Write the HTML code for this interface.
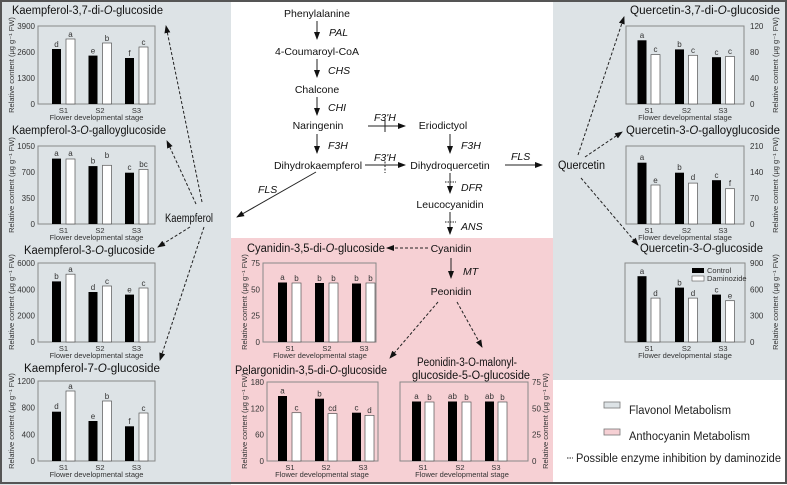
<!DOCTYPE html>
<html><head><meta charset="utf-8"><style>
html,body{margin:0;padding:0;background:#fff}
svg{display:block;font-family:"Liberation Sans",Arial,sans-serif}
.t{font-size:11.5px;fill:#111}
.p{font-size:10.5px;fill:#111}
.e{font-size:10.5px;fill:#111;font-style:italic}
.k{font-size:8px;fill:#333}
.l{font-size:8px;fill:#333}
.ax{font-size:7.5px;fill:#333}
.box{fill:none;stroke:#888;stroke-width:1}
.b{fill:#000}
.w{fill:#fff;stroke:#555;stroke-width:.7}
.d{stroke:#222;stroke-width:1;stroke-dasharray:3,2;fill:none}
.s{stroke:#222;stroke-width:1;fill:none}
</style></head><body>
<svg width="787" height="485" viewBox="0 0 787 485">
<defs>
<marker id="a" markerWidth="8" markerHeight="6" refX="7" refY="3" orient="auto" markerUnits="userSpaceOnUse"><path d="M0,0 L8,3 L0,6 z" fill="#111"/></marker>
</defs>
<rect x="0" y="0" width="787" height="485" fill="#fff"/>
<rect x="0" y="0" width="231" height="485" fill="#dde3e6"/>
<rect x="553" y="0" width="234" height="380" fill="#dde3e6"/>
<rect x="231" y="238" width="322" height="244" fill="#f6d0d4"/>
<rect x="1" y="1" width="785" height="482" fill="none" stroke="#555" stroke-width="2"/>

<!-- LEFT CHARTS -->
<g>
<text class="t" x="12" y="14" textLength="151" lengthAdjust="spacingAndGlyphs">Kaempferol-3,7-di-<tspan font-style="italic">O</tspan>-glucoside</text>
<rect class="box" x="38" y="26" width="117" height="78"/>
<text class="k" x="35" y="107" text-anchor="end">0</text><text class="k" x="35" y="81" text-anchor="end">1300</text><text class="k" x="35" y="55" text-anchor="end">2600</text><text class="k" x="35" y="29" text-anchor="end">3900</text>
<rect class="b" x="52" y="49" width="9" height="55"/><rect class="w" x="66" y="39" width="9" height="65"/>
<rect class="b" x="88.5" y="55.6" width="9" height="48.4"/><rect class="w" x="102.5" y="43" width="9" height="61"/>
<rect class="b" x="125" y="58" width="9" height="46"/><rect class="w" x="139" y="47" width="9" height="57"/>
<text class="l" x="56.5" y="47" text-anchor="middle">d</text><text class="l" x="70.5" y="37" text-anchor="middle">a</text>
<text class="l" x="93" y="53.5" text-anchor="middle">e</text><text class="l" x="107" y="41" text-anchor="middle">b</text>
<text class="l" x="129.5" y="56" text-anchor="middle">f</text><text class="l" x="143.5" y="45" text-anchor="middle">c</text>
<text class="ax" x="63.5" y="113" text-anchor="middle">S1</text><text class="ax" x="100" y="113" text-anchor="middle">S2</text><text class="ax" x="136.5" y="113" text-anchor="middle">S3</text>
<text class="ax" x="96.5" y="120" text-anchor="middle">Flower developmental stage</text>
<text class="ax" transform="translate(14,65) rotate(-90)" text-anchor="middle">Relative content (μg g⁻¹ FW)</text>
</g>
<g>
<text class="t" x="12" y="134" textLength="154" lengthAdjust="spacingAndGlyphs">Kaempferol-3-<tspan font-style="italic">O</tspan>-galloyglucoside</text>
<rect class="box" x="38" y="146" width="117" height="78"/>
<text class="k" x="35" y="227" text-anchor="end">0</text><text class="k" x="35" y="201" text-anchor="end">350</text><text class="k" x="35" y="175" text-anchor="end">700</text><text class="k" x="35" y="149" text-anchor="end">1050</text>
<rect class="b" x="52" y="158.6" width="9" height="65.4"/><rect class="w" x="66" y="159" width="9" height="65"/>
<rect class="b" x="88.5" y="166.1" width="9" height="57.9"/><rect class="w" x="102.5" y="165.3" width="9" height="58.7"/>
<rect class="b" x="125" y="172.7" width="9" height="51.3"/><rect class="w" x="139" y="169.4" width="9" height="54.6"/>
<text class="l" x="56.5" y="156" text-anchor="middle">a</text><text class="l" x="70.5" y="156" text-anchor="middle">a</text>
<text class="l" x="93" y="163.5" text-anchor="middle">b</text><text class="l" x="107" y="158" text-anchor="middle">b</text>
<text class="l" x="129.5" y="170" text-anchor="middle">c</text><text class="l" x="143.5" y="167" text-anchor="middle">bc</text>
<text class="ax" x="63.5" y="233" text-anchor="middle">S1</text><text class="ax" x="100" y="233" text-anchor="middle">S2</text><text class="ax" x="136.5" y="233" text-anchor="middle">S3</text>
<text class="ax" x="96.5" y="240" text-anchor="middle">Flower developmental stage</text>
<text class="ax" transform="translate(14,185) rotate(-90)" text-anchor="middle">Relative content (μg g⁻¹ FW)</text>
</g>
<g>
<text class="t" x="24" y="254" textLength="131" lengthAdjust="spacingAndGlyphs">Kaempferol-3-<tspan font-style="italic">O</tspan>-glucoside</text>
<rect class="box" x="38" y="263" width="117" height="79"/>
<text class="k" x="35" y="345" text-anchor="end">0</text><text class="k" x="35" y="318.7" text-anchor="end">2000</text><text class="k" x="35" y="292.3" text-anchor="end">4000</text><text class="k" x="35" y="266" text-anchor="end">6000</text>
<rect class="b" x="52" y="281.4" width="9" height="60.6"/><rect class="w" x="66" y="274.2" width="9" height="67.8"/>
<rect class="b" x="88.5" y="292" width="9" height="50"/><rect class="w" x="102.5" y="286" width="9" height="56"/>
<rect class="b" x="125" y="294.6" width="9" height="47.4"/><rect class="w" x="139" y="288" width="9" height="54"/>
<text class="l" x="56.5" y="279" text-anchor="middle">b</text><text class="l" x="70.5" y="272" text-anchor="middle">a</text>
<text class="l" x="93" y="290" text-anchor="middle">d</text><text class="l" x="107" y="284" text-anchor="middle">c</text>
<text class="l" x="129.5" y="292.5" text-anchor="middle">e</text><text class="l" x="143.5" y="286" text-anchor="middle">c</text>
<text class="ax" x="63.5" y="351" text-anchor="middle">S1</text><text class="ax" x="100" y="351" text-anchor="middle">S2</text><text class="ax" x="136.5" y="351" text-anchor="middle">S3</text>
<text class="ax" x="96.5" y="358" text-anchor="middle">Flower developmental stage</text>
<text class="ax" transform="translate(14,302) rotate(-90)" text-anchor="middle">Relative content (μg g⁻¹ FW)</text>
</g>
<g>
<text class="t" x="24" y="372" textLength="136" lengthAdjust="spacingAndGlyphs">Kaempferol-7-<tspan font-style="italic">O</tspan>-glucoside</text>
<rect class="box" x="38" y="381" width="117" height="80"/>
<text class="k" x="35" y="464" text-anchor="end">0</text><text class="k" x="35" y="437.3" text-anchor="end">400</text><text class="k" x="35" y="410.7" text-anchor="end">800</text><text class="k" x="35" y="384" text-anchor="end">1200</text>
<rect class="b" x="52" y="411.7" width="9" height="49.3"/><rect class="w" x="66" y="391" width="9" height="70"/>
<rect class="b" x="88.5" y="421" width="9" height="40"/><rect class="w" x="102.5" y="401" width="9" height="60"/>
<rect class="b" x="125" y="426.3" width="9" height="34.7"/><rect class="w" x="139" y="413" width="9" height="48"/>
<text class="l" x="56.5" y="409" text-anchor="middle">d</text><text class="l" x="70.5" y="389" text-anchor="middle">a</text>
<text class="l" x="93" y="419" text-anchor="middle">e</text><text class="l" x="107" y="399" text-anchor="middle">b</text>
<text class="l" x="129.5" y="424" text-anchor="middle">f</text><text class="l" x="143.5" y="411" text-anchor="middle">c</text>
<text class="ax" x="63.5" y="470" text-anchor="middle">S1</text><text class="ax" x="100" y="470" text-anchor="middle">S2</text><text class="ax" x="136.5" y="470" text-anchor="middle">S3</text>
<text class="ax" x="96.5" y="477" text-anchor="middle">Flower developmental stage</text>
<text class="ax" transform="translate(14,421) rotate(-90)" text-anchor="middle">Relative content (μg g⁻¹ FW)</text>
</g>
<text class="p" x="165" y="222" style="font-size:11.5px" textLength="48" lengthAdjust="spacingAndGlyphs">Kaempferol</text>
<line class="d" x1="202" y1="202" x2="166" y2="26" marker-end="url(#a)"/>
<line class="d" x1="196" y1="204" x2="167" y2="141" marker-end="url(#a)"/>
<line class="d" x1="190" y1="227" x2="158" y2="247" marker-end="url(#a)"/>
<line class="d" x1="204" y1="227" x2="160" y2="360" marker-end="url(#a)"/>

<!-- RIGHT CHARTS -->
<g>
<text class="t" x="630" y="14" textLength="150" lengthAdjust="spacingAndGlyphs">Quercetin-3,7-di-<tspan font-style="italic">O</tspan>-glucoside</text>
<rect class="box" x="626" y="26" width="118" height="78"/>
<text class="k" x="750" y="107">0</text><text class="k" x="750" y="81">40</text><text class="k" x="750" y="55">80</text><text class="k" x="750" y="29">120</text>
<rect class="b" x="637.5" y="40.3" width="9" height="63.7"/><rect class="w" x="651" y="54.6" width="9" height="49.4"/>
<rect class="b" x="675" y="49.4" width="9" height="54.6"/><rect class="w" x="688.5" y="55.3" width="9" height="48.7"/>
<rect class="b" x="712" y="57.2" width="9" height="46.8"/><rect class="w" x="725.5" y="56.5" width="9" height="47.5"/>
<text class="l" x="642" y="38" text-anchor="middle">a</text><text class="l" x="655.5" y="52" text-anchor="middle">c</text>
<text class="l" x="679.5" y="47" text-anchor="middle">b</text><text class="l" x="693" y="53" text-anchor="middle">c</text>
<text class="l" x="716.5" y="55" text-anchor="middle">c</text><text class="l" x="730" y="54" text-anchor="middle">c</text>
<text class="ax" x="649" y="113" text-anchor="middle">S1</text><text class="ax" x="686.5" y="113" text-anchor="middle">S2</text><text class="ax" x="723" y="113" text-anchor="middle">S3</text>
<text class="ax" x="685" y="120" text-anchor="middle">Flower developmental stage</text>
<text class="ax" transform="translate(778,65) rotate(-90)" text-anchor="middle">Relative content (μg g⁻¹ FW)</text>
</g>
<g>
<text class="t" x="626" y="134" textLength="154" lengthAdjust="spacingAndGlyphs">Quercetin-3-<tspan font-style="italic">O</tspan>-galloyglucoside</text>
<rect class="box" x="626" y="146" width="118" height="78"/>
<text class="k" x="750" y="227">0</text><text class="k" x="750" y="201">70</text><text class="k" x="750" y="175">140</text><text class="k" x="750" y="149">210</text>
<rect class="b" x="637.5" y="162.7" width="9" height="61.3"/><rect class="w" x="651" y="185" width="9" height="39"/>
<rect class="b" x="675" y="172.7" width="9" height="51.3"/><rect class="w" x="688.5" y="183.1" width="9" height="40.9"/>
<rect class="b" x="712" y="180.2" width="9" height="43.8"/><rect class="w" x="725.5" y="188.7" width="9" height="35.3"/>
<text class="l" x="642" y="160" text-anchor="middle">a</text><text class="l" x="655.5" y="183" text-anchor="middle">e</text>
<text class="l" x="679.5" y="170" text-anchor="middle">b</text><text class="l" x="693" y="180" text-anchor="middle">d</text>
<text class="l" x="716.5" y="178" text-anchor="middle">c</text><text class="l" x="730" y="186" text-anchor="middle">f</text>
<text class="ax" x="649" y="233" text-anchor="middle">S1</text><text class="ax" x="686.5" y="233" text-anchor="middle">S2</text><text class="ax" x="723" y="233" text-anchor="middle">S3</text>
<text class="ax" x="685" y="240" text-anchor="middle">Flower developmental stage</text>
<text class="ax" transform="translate(778,185) rotate(-90)" text-anchor="middle">Relative content (μg g⁻¹ FW)</text>
</g>
<g>
<text class="t" x="640" y="252" textLength="123" lengthAdjust="spacingAndGlyphs">Quercetin-3-<tspan font-style="italic">O</tspan>-glucoside</text>
<rect class="box" x="625" y="263" width="120" height="79"/>
<text class="k" x="750" y="345">0</text><text class="k" x="750" y="318.7">300</text><text class="k" x="750" y="292.3">600</text><text class="k" x="750" y="266">900</text>
<rect class="b" x="637.5" y="276.2" width="9" height="65.8"/><rect class="w" x="651" y="298.1" width="9" height="43.9"/>
<rect class="b" x="675" y="287.6" width="9" height="54.4"/><rect class="w" x="688.5" y="298.1" width="9" height="43.9"/>
<rect class="b" x="712" y="294.6" width="9" height="47.4"/><rect class="w" x="725.5" y="300.7" width="9" height="41.3"/>
<text class="l" x="642" y="274" text-anchor="middle">a</text><text class="l" x="655.5" y="296" text-anchor="middle">d</text>
<text class="l" x="679.5" y="285.5" text-anchor="middle">b</text><text class="l" x="693" y="296" text-anchor="middle">d</text>
<text class="l" x="716.5" y="292.5" text-anchor="middle">c</text><text class="l" x="730" y="298.5" text-anchor="middle">e</text>
<rect x="692" y="268" width="12" height="5" fill="#000"/><text class="ax" x="707" y="273">Control</text>
<rect x="692" y="276" width="12" height="5" fill="#fff" stroke="#555" stroke-width=".6"/><text class="ax" x="707" y="281">Daminozide</text>
<text class="ax" x="649" y="351" text-anchor="middle">S1</text><text class="ax" x="686.5" y="351" text-anchor="middle">S2</text><text class="ax" x="723" y="351" text-anchor="middle">S3</text>
<text class="ax" x="685" y="358" text-anchor="middle">Flower developmental stage</text>
<text class="ax" transform="translate(778,302) rotate(-90)" text-anchor="middle">Relative content (μg g⁻¹ FW)</text>
</g>
<text class="p" x="558" y="169" style="font-size:11.5px" textLength="47" lengthAdjust="spacingAndGlyphs">Quercetin</text>
<line class="d" x1="578" y1="155" x2="624" y2="17" marker-end="url(#a)"/>
<line class="d" x1="585" y1="157" x2="622" y2="132" marker-end="url(#a)"/>
<line class="d" x1="581" y1="178" x2="638" y2="245" marker-end="url(#a)"/>

<!-- PATHWAY -->
<g text-anchor="middle">
<text class="p" x="317" y="17">Phenylalanine</text>
<text class="p" x="317" y="55">4-Coumaroyl-CoA</text>
<text class="p" x="317" y="93">Chalcone</text>
<text class="p" x="318" y="129">Naringenin</text>
<text class="p" x="318" y="169">Dihydrokaempferol</text>
<text class="p" x="443" y="129">Eriodictyol</text>
<text class="p" x="450" y="169">Dihydroquercetin</text>
<text class="p" x="450" y="208">Leucocyanidin</text>
<text class="p" x="451" y="252">Cyanidin</text>
<text class="p" x="451" y="295">Peonidin</text>
</g>
<g>
<text class="e" x="329" y="36">PAL</text>
<text class="e" x="328" y="74">CHS</text>
<text class="e" x="328" y="111">CHI</text>
<text class="e" x="328" y="149">F3H</text>
<text class="e" x="461" y="149">F3H</text>
<text class="e" x="374" y="121">F3'H</text>
<text class="e" x="374" y="161">F3'H</text>
<text class="e" x="511" y="160">FLS</text>
<text class="e" x="258" y="193">FLS</text>
<text class="e" x="461" y="191">DFR</text>
<text class="e" x="461" y="230">ANS</text>
<text class="e" x="463" y="275">MT</text>
</g>
<line class="s" x1="317" y1="21" x2="317" y2="39" marker-end="url(#a)"/>
<line class="s" x1="317" y1="59" x2="317" y2="77" marker-end="url(#a)"/>
<line class="s" x1="317" y1="97" x2="317" y2="115" marker-end="url(#a)"/>
<line class="s" x1="317" y1="134" x2="317" y2="153" marker-end="url(#a)"/>
<line class="s" x1="450" y1="134" x2="450" y2="153" marker-end="url(#a)"/>
<line class="s" x1="368" y1="126" x2="405" y2="126" marker-end="url(#a)"/>
<line class="s" x1="385" y1="120" x2="385" y2="132"/>
<line class="s" x1="365" y1="165" x2="405" y2="165" marker-end="url(#a)"/>
<line class="d" x1="385" y1="158" x2="385" y2="173" style="stroke-dasharray:2,1.5"/>
<line class="s" x1="505" y1="165" x2="542" y2="165" marker-end="url(#a)"/>
<line class="s" x1="316" y1="172" x2="237" y2="217" marker-end="url(#a)"/>
<line class="s" x1="450" y1="173" x2="450" y2="193" marker-end="url(#a)"/>
<line class="d" x1="445" y1="182" x2="456" y2="182" style="stroke-dasharray:1.5,1"/>
<line class="s" x1="450" y1="212" x2="450" y2="234" marker-end="url(#a)"/>
<line class="d" x1="445" y1="222" x2="456" y2="222" style="stroke-dasharray:1.5,1"/>
<line class="s" x1="451" y1="258" x2="451" y2="278" marker-end="url(#a)"/>
<line class="d" x1="428" y1="248" x2="387" y2="248" marker-end="url(#a)"/>
<line class="d" x1="438" y1="302" x2="390" y2="358" marker-end="url(#a)"/>
<line class="d" x1="457" y1="302" x2="482" y2="347" marker-end="url(#a)"/>

<!-- CENTER CHARTS -->
<g>
<text class="t" x="247" y="252" textLength="138" lengthAdjust="spacingAndGlyphs">Cyanidin-3,5-di-<tspan font-style="italic">O</tspan>-glucoside</text>
<rect class="box" x="263" y="263" width="113" height="79"/>
<text class="k" x="260" y="345" text-anchor="end">0</text><text class="k" x="260" y="318.7" text-anchor="end">25</text><text class="k" x="260" y="292.3" text-anchor="end">50</text><text class="k" x="260" y="266" text-anchor="end">75</text>
<rect class="b" x="278" y="282.5" width="9" height="59.5"/><rect class="w" x="292" y="283" width="9" height="59"/>
<rect class="b" x="315" y="283" width="9" height="59"/><rect class="w" x="329" y="283" width="9" height="59"/>
<rect class="b" x="352" y="283.5" width="9" height="58.5"/><rect class="w" x="366" y="283" width="9" height="59"/>
<text class="l" x="282.5" y="280" text-anchor="middle">a</text><text class="l" x="296.5" y="281" text-anchor="middle">b</text>
<text class="l" x="319.5" y="281" text-anchor="middle">b</text><text class="l" x="333.5" y="281" text-anchor="middle">b</text>
<text class="l" x="356.5" y="281" text-anchor="middle">b</text><text class="l" x="370.5" y="281" text-anchor="middle">b</text>
<text class="ax" x="290" y="351" text-anchor="middle">S1</text><text class="ax" x="327" y="351" text-anchor="middle">S2</text><text class="ax" x="364" y="351" text-anchor="middle">S3</text>
<text class="ax" x="320" y="358" text-anchor="middle">Flower developmental stage</text>
<text class="ax" transform="translate(247,302) rotate(-90)" text-anchor="middle">Relative content (μg g⁻¹ FW)</text>
</g>
<g>
<text class="t" x="235" y="374" textLength="152" lengthAdjust="spacingAndGlyphs">Pelargonidin-3,5-di-<tspan font-style="italic">O</tspan>-glucoside</text>
<rect class="box" x="267" y="382" width="111" height="79"/>
<text class="k" x="264" y="464" text-anchor="end">0</text><text class="k" x="264" y="437.7" text-anchor="end">60</text><text class="k" x="264" y="411.3" text-anchor="end">120</text><text class="k" x="264" y="385" text-anchor="end">180</text>
<rect class="b" x="278" y="396" width="9" height="65"/><rect class="w" x="292" y="412.7" width="9" height="48.3"/>
<rect class="b" x="315" y="398.7" width="9" height="62.3"/><rect class="w" x="328" y="413.6" width="9" height="47.4"/>
<rect class="b" x="352" y="412.7" width="9" height="48.3"/><rect class="w" x="365" y="415.4" width="9" height="45.6"/>
<text class="l" x="282.5" y="393.5" text-anchor="middle">a</text><text class="l" x="296.5" y="410.5" text-anchor="middle">c</text>
<text class="l" x="319.5" y="396.5" text-anchor="middle">b</text><text class="l" x="332.5" y="411" text-anchor="middle">cd</text>
<text class="l" x="356.5" y="410.5" text-anchor="middle">c</text><text class="l" x="369.5" y="413" text-anchor="middle">d</text>
<text class="ax" x="290" y="470" text-anchor="middle">S1</text><text class="ax" x="326" y="470" text-anchor="middle">S2</text><text class="ax" x="363" y="470" text-anchor="middle">S3</text>
<text class="ax" x="322" y="477" text-anchor="middle">Flower developmental stage</text>
<text class="ax" transform="translate(247,421) rotate(-90)" text-anchor="middle">Relative content (μg g⁻¹ FW)</text>
</g>
<g>
<text class="t" x="417" y="366" textLength="100" lengthAdjust="spacingAndGlyphs">Peonidin-3-O-malonyl-</text>
<text class="t" x="412" y="379" textLength="118" lengthAdjust="spacingAndGlyphs">glucoside-5-O-glucoside</text>
<rect class="box" x="400" y="382" width="128" height="79"/>
<text class="k" x="532" y="464">0</text><text class="k" x="532" y="437.7">25</text><text class="k" x="532" y="411.3">50</text><text class="k" x="532" y="385">75</text>
<rect class="b" x="412" y="401.5" width="9" height="59.5"/><rect class="w" x="425" y="402" width="9" height="59"/>
<rect class="b" x="448" y="401.5" width="9" height="59.5"/><rect class="w" x="462" y="402" width="9" height="59"/>
<rect class="b" x="485" y="401.5" width="9" height="59.5"/><rect class="w" x="498" y="402" width="9" height="59"/>
<text class="l" x="416.5" y="399" text-anchor="middle">a</text><text class="l" x="429.5" y="400" text-anchor="middle">b</text>
<text class="l" x="452.5" y="399" text-anchor="middle">ab</text><text class="l" x="466.5" y="400" text-anchor="middle">b</text>
<text class="l" x="489.5" y="399" text-anchor="middle">ab</text><text class="l" x="502.5" y="400" text-anchor="middle">b</text>
<text class="ax" x="423" y="470" text-anchor="middle">S1</text><text class="ax" x="460" y="470" text-anchor="middle">S2</text><text class="ax" x="496" y="470" text-anchor="middle">S3</text>
<text class="ax" x="462" y="477" text-anchor="middle">Flower developmental stage</text>
<text class="ax" transform="translate(548,421) rotate(-90)" text-anchor="middle">Relative content (μg g⁻¹ FW)</text>
</g>

<!-- LEGEND -->
<rect x="604" y="402" width="16" height="6" fill="#dde3e6" stroke="#777" stroke-width=".8"/>
<text x="629" y="414" style="font-size:11.5px;fill:#222" textLength="102" lengthAdjust="spacingAndGlyphs">Flavonol Metabolism</text>
<rect x="604" y="429" width="16" height="6" fill="#f6d0d4" stroke="#777" stroke-width=".8"/>
<text x="629" y="440" style="font-size:11.5px;fill:#222" textLength="121" lengthAdjust="spacingAndGlyphs">Anthocyanin Metabolism</text>
<line x1="567" y1="458" x2="573" y2="458" stroke="#222" stroke-width="1" stroke-dasharray="1.5,1"/>
<text x="576" y="462" style="font-size:11.5px;fill:#222" textLength="205" lengthAdjust="spacingAndGlyphs">Possible enzyme inhibition by daminozide</text>
</svg>
</body></html>
